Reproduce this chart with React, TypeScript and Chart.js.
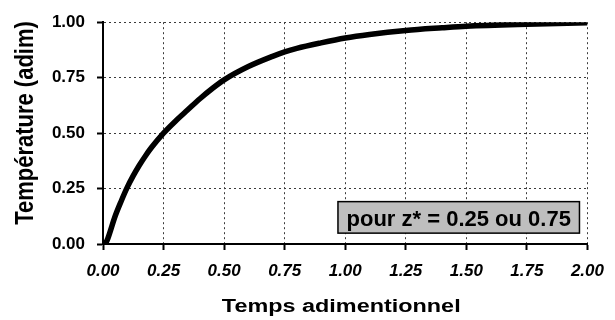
import { useEffect, useRef } from "react";
import { Chart, registerables } from "chart.js";

Chart.register(...registerables);

// Dimensionless time and temperature samples of the response curve
const timeValues = [
  0.01, 0.02, 0.05, 0.075, 0.1, 0.125, 0.15, 0.175, 0.2, 0.25, 0.3, 0.35, 0.4, 0.45, 0.5, 0.6, 0.7, 0.75, 0.8, 0.9,
  1.0, 1.1, 1.25, 1.4, 1.5, 1.75, 2.0,
];
const temperatureValues = [
  0, 0.025, 0.125, 0.193, 0.255, 0.308, 0.355, 0.397, 0.435, 0.5, 0.555, 0.605, 0.655, 0.7, 0.74, 0.8, 0.846, 0.866,
  0.882, 0.907, 0.929, 0.945, 0.963, 0.975, 0.982, 0.991, 0.997,
];

const xRange = [0, 2];
const yRange = [0, 1];
const tickStep = 0.25;

const xTitle = "Temps adimentionnel";
const yTitle = "Température (adim)";
const noteText = "pour z* = 0.25 ou 0.75";
// note box corners in data units
const noteX = [0.97, 1.967];
const noteY = [0.191, 0.049];

const FONT = "'Liberation Sans', Arial, sans-serif";

const overlayPlugin = {
  id: "overlay",
  afterDraw(chart: any) {
    const ctx = chart.ctx as CanvasRenderingContext2D;
    const xs = chart.scales.x;
    const ys = chart.scales.y;
    const area = chart.chartArea;

    // annotation box
    const l = xs.getPixelForValue(noteX[0]);
    const r = xs.getPixelForValue(noteX[1]);
    const t = ys.getPixelForValue(noteY[0]);
    const b = ys.getPixelForValue(noteY[1]);
    ctx.save();
    ctx.fillStyle = "#bebebe";
    ctx.fillRect(l, t, r - l, b - t);
    ctx.strokeStyle = "#000";
    ctx.lineWidth = 1.5;
    ctx.strokeRect(l, t, r - l, b - t);
    ctx.fillStyle = "#000";
    ctx.font = `bold 22px ${FONT}`;
    ctx.textAlign = "center";
    ctx.textBaseline = "alphabetic";
    ctx.fillText(noteText, (l + r) / 2, b - 7);
    ctx.restore();

    // x axis title
    ctx.save();
    ctx.translate((area.left + area.right) / 2 - 4, 312);
    ctx.scale(1.3, 1);
    ctx.fillStyle = "#000";
    ctx.font = `bold 18px ${FONT}`;
    ctx.textAlign = "center";
    ctx.textBaseline = "alphabetic";
    ctx.fillText(xTitle, 0, 0);
    ctx.restore();

    // y axis title
    ctx.save();
    ctx.translate(33, 123);
    ctx.rotate(-Math.PI / 2);
    ctx.scale(1, 1.15);
    ctx.fillStyle = "#000";
    ctx.font = `bold 22px ${FONT}`;
    ctx.textAlign = "center";
    ctx.textBaseline = "alphabetic";
    ctx.fillText(yTitle, 0, 0);
    ctx.restore();
  },
};

export default function App() {
  const canvasRef = useRef<HTMLCanvasElement | null>(null);

  useEffect(() => {
    if (!canvasRef.current) return;
    const points = timeValues.map((tv, i) => ({ x: tv, y: temperatureValues[i] }));
    const gridStyle = {
      color: "#3a3a3a",
      lineWidth: 1,
      drawTicks: true,
      tickLength: 6,
      tickColor: "#000",
      tickWidth: 2,
      tickBorderDash: [],
    };
    const borderStyle = { display: true, color: "#000", width: 2, dash: [2, 3] };
    const chart = new Chart(canvasRef.current, {
      type: "line",
      data: {
        datasets: [
          {
            data: points,
            borderColor: "#000",
            borderWidth: 5.5,
            pointRadius: 0,
            fill: false,
            cubicInterpolationMode: "monotone",
          },
        ],
      },
      options: {
        responsive: false,
        animation: false,
        layout: { padding: { top: 19, right: 22, left: 0, bottom: 0 } },
        plugins: { legend: { display: false }, tooltip: { enabled: false } },
        scales: {
          x: {
            type: "linear",
            min: xRange[0],
            max: xRange[1],
            grid: gridStyle,
            border: borderStyle,
            ticks: {
              stepSize: tickStep,
              color: "#000",
              padding: 11,
              maxRotation: 0,
              font: { family: FONT, size: 17, style: "italic", weight: "bold" },
              callback: (v: any) => Number(v).toFixed(2),
            },
            afterFit: (s: any) => {
              s.height = 76;
            },
          },
          y: {
            type: "linear",
            min: yRange[0],
            max: yRange[1],
            grid: gridStyle,
            border: borderStyle,
            ticks: {
              stepSize: tickStep,
              color: "#000",
              padding: 12,
              font: { family: FONT, size: 17, weight: "bold" },
              callback: (v: any) => Number(v).toFixed(2),
            },
            afterFit: (s: any) => {
              s.width = 103;
            },
          },
        },
      },
      plugins: [overlayPlugin],
    } as any);
    return () => chart.destroy();
  }, []);

  return (
    <div style={{ position: "fixed", left: 0, top: 0, width: 615, height: 320, background: "#fff" }}>
      <canvas ref={canvasRef} width={615} height={320} />
    </div>
  );
}
